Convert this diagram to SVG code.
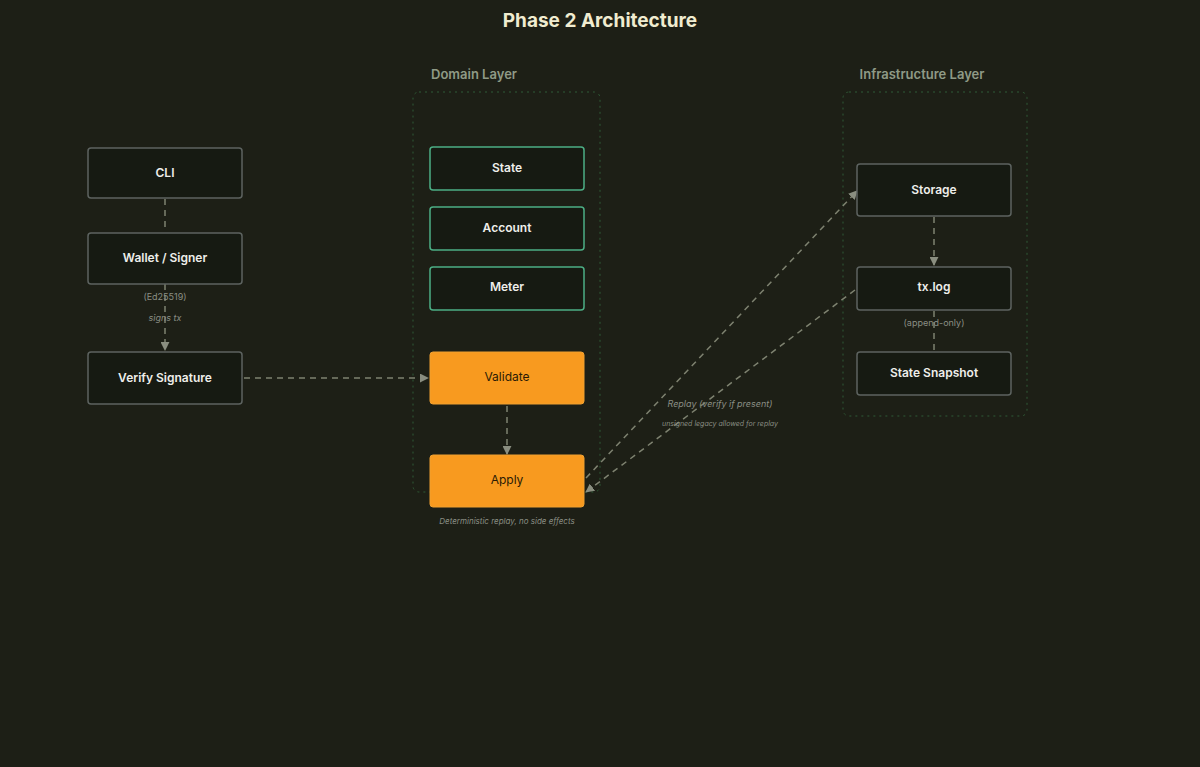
<svg xmlns="http://www.w3.org/2000/svg" width="1200" height="767" viewBox="0 0 1200 767">
<style>
text{font-family:Inter,"Liberation Sans",sans-serif}
.n{fill:#161a12;stroke:#5d6360;stroke-width:1.5}
.g{fill:#161a12;stroke:#4caf85;stroke-width:1.5}
.o{fill:#f89a1f;stroke:#f0a030;stroke-width:1}
.t{fill:#eeeeea;font-size:12px;font-weight:600;text-anchor:middle}
.to{fill:#2a1a05;font-size:12px;text-anchor:middle}
.lay{fill:none;stroke:#2f5a36;stroke-dasharray:2 4;stroke-width:1}
.lt{fill:#8f9a86;font-size:13px;font-weight:600;text-anchor:middle}
.e{fill:none;stroke:#7e8270;stroke-width:1.5;stroke-dasharray:6 5}
.s{fill:#8a8e84;font-size:9px;text-anchor:middle}
</style>
<defs><marker id="a" viewBox="0 0 10 10" refX="9" refY="5" markerWidth="6" markerHeight="6" orient="auto"><path d="M0,0L10,5L0,10z" fill="#8a8e80"/></marker></defs>
<rect width="1200" height="767" fill="#1d1f16"/>
<text x="600" y="27" fill="#f0ecd0" font-size="19" font-weight="700" text-anchor="middle" style="font-family:Inter,'Liberation Sans',sans-serif">Phase 2 Architecture</text>
<g id="domain-layer"><rect class="lay" x="413" y="92" width="187" height="400" rx="6"/><text class="lt" x="474" y="79">Domain Layer</text></g>
<g id="infra-layer"><rect class="lay" x="843" y="92" width="184" height="324" rx="6"/><text class="lt" x="922" y="79">Infrastructure Layer</text></g>
<g id="connectors">
<path class="e" d="M165,199V232"/>
<path class="e" d="M165,284V350" marker-end="url(#a)"/>
<path class="e" d="M244,378H428" marker-end="url(#a)"/>
<path class="e" d="M507,406V454" marker-end="url(#a)"/>
<path class="e" d="M586,478L857,191" marker-end="url(#a)"/>
<path class="e" d="M855,290L586,492" marker-end="url(#a)"/>
<path class="e" d="M934,217V265" marker-end="url(#a)"/>
<path class="e" d="M934,311V351"/>
<text class="s" x="165" y="300">(Ed25519)</text>
<text class="s" x="165" y="321" font-style="italic">signs tx</text>
<text class="s" x="720" y="407" font-style="italic">Replay (verify if present)</text>
<text class="s" x="720" y="426" font-size="7" style="font-size:7px" font-style="italic">unsigned legacy allowed for replay</text>
<text class="s" x="507" y="524" font-size="8" style="font-size:8px" font-style="italic">Deterministic replay, no side effects</text>
<text class="s" x="934" y="326">(append-only)</text>
</g>
<g id="cli"><rect class="n" x="88" y="148" width="154" height="50" rx="3"/><text class="t" x="165" y="177">CLI</text></g>
<g id="wallet"><rect class="n" x="88" y="233" width="154" height="51" rx="3"/><text class="t" x="165" y="262">Wallet / Signer</text></g>
<g id="verify"><rect class="n" x="88" y="352" width="154" height="52" rx="3"/><text class="t" x="165" y="382">Verify Signature</text></g>
<g id="state"><rect class="g" x="430" y="147" width="154" height="43" rx="3"/><text class="t" x="507" y="172">State</text></g>
<g id="account"><rect class="g" x="430" y="207" width="154" height="43" rx="3"/><text class="t" x="507" y="232">Account</text></g>
<g id="meter"><rect class="g" x="430" y="267" width="154" height="43" rx="3"/><text class="t" x="507" y="291">Meter</text></g>
<g id="validate"><rect class="o" x="430" y="352" width="154" height="52" rx="3"/><text class="to" x="507" y="381">Validate</text></g>
<g id="apply"><rect class="o" x="430" y="455" width="154" height="52" rx="3"/><text class="to" x="507" y="484">Apply</text></g>
<g id="storage"><rect class="n" x="857" y="164" width="154" height="52" rx="3"/><text class="t" x="934" y="194">Storage</text></g>
<g id="txlog"><rect class="n" x="857" y="267" width="154" height="43" rx="3"/><text class="t" x="934" y="291">tx.log</text></g>
<g id="snapshot"><rect class="n" x="857" y="352" width="154" height="43" rx="3"/><text class="t" x="934" y="377">State Snapshot</text></g>
</svg>
